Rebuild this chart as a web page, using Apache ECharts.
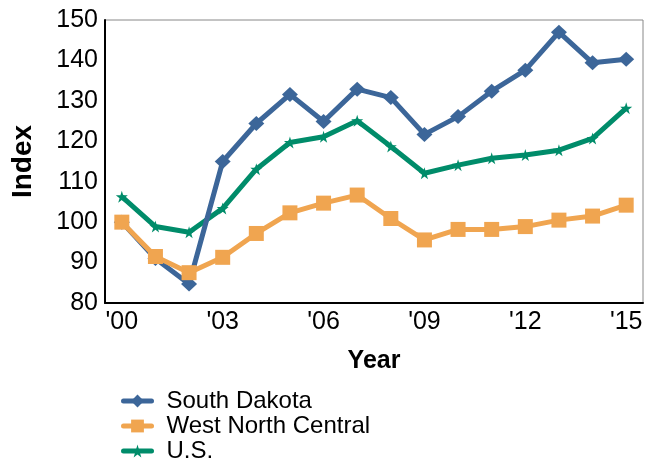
<!DOCTYPE html>
<html>
<head>
<meta charset="utf-8">
<script src="https://cdn.jsdelivr.net/npm/echarts@6/dist/echarts.min.js"></script>
<style>
  html, body { margin: 0; padding: 0; background: #fff; }
  #chart { width: 657px; height: 463px; }
</style>
</head>
<body>
<div id="chart"></div>
<script>
  // data
  const years = ["'00", "'01", "'02", "'03", "'04", "'05", "'06", "'07", "'08", "'09", "'10", "'11", "'12", "'13", "'14", "'15"];
  const southDakota = [100, 91, 84.7, 115, 124.4, 131.6, 124.9, 132.9, 130.8, 121.7, 126.1, 132.4, 137.6, 147, 139.4, 140.3];
  const westNorthCentral = [100, 91.5, 87.5, 91.3, 97.2, 102.3, 104.7, 106.7, 100.9, 95.6, 98.2, 98.2, 98.9, 100.5, 101.5, 104.2];
  const us = [106.3, 98.9, 97.5, 103.4, 113.1, 119.7, 121.1, 125.1, 118.7, 112.1, 114.1, 115.8, 116.6, 117.8, 120.7, 128.2];

  const font = 'Liberation Sans, Arial, sans-serif';
  const star = 'path://M50,0 L61,35 L98,35 L68,57 L79,91 L50,70 L21,91 L32,57 L2,35 L39,35 Z';

  const chart = echarts.init(document.getElementById('chart'));
  chart.setOption({
    animation: false,
    textStyle: { fontFamily: font },
    grid: {
      left: 105, top: 20, right: 14, bottom: 160,
      show: true, borderColor: '#888', borderWidth: 1
    },
    legend: {
      orient: 'vertical',
      left: 121, top: 389, height: 80,
      padding: 0,
      itemGap: 1, itemWidth: 28, itemHeight: 16,
      lineStyle: { width: 5, cap: 'round' },
      textStyle: { fontSize: 24, color: '#000', fontFamily: font, padding: [0, 0, 0, 10] },
      data: ['South Dakota', 'West North Central', 'U.S.']
    },
    xAxis: {
      type: 'category',
      data: years,
      boundaryGap: true,
      name: 'Year',
      nameLocation: 'middle',
      nameGap: 46,
      nameTextStyle: { fontSize: 25, fontWeight: 'bold', color: '#000' },
      axisLine: { lineStyle: { color: '#000', width: 2 } },
      axisTick: { show: false },
      axisLabel: { interval: 2, fontSize: 25, color: '#000', margin: 7 }
    },
    yAxis: {
      type: 'value',
      min: 80, max: 150, interval: 10,
      name: 'Index',
      nameLocation: 'middle',
      nameGap: 68,
      nameTextStyle: { fontSize: 28, fontWeight: 'bold', color: '#000' },
      axisLine: { show: true, lineStyle: { color: '#000', width: 2 } },
      axisTick: { show: false },
      splitLine: { show: false },
      axisLabel: { fontSize: 25, color: '#000', margin: 7 }
    },
    series: [
      {
        name: 'South Dakota', type: 'line', data: southDakota,
        symbol: 'diamond', symbolSize: [16, 15], color: '#3c6699',
        lineStyle: { width: 5 }, z: 3
      },
      {
        name: 'West North Central', type: 'line', data: westNorthCentral,
        symbol: 'rect', symbolSize: 15, color: '#f0a550',
        lineStyle: { width: 5 }, z: 4
      },
      {
        name: 'U.S.', type: 'line', data: us,
        symbol: star, symbolSize: 12, color: '#008c6a',
        lineStyle: { width: 5 }, z: 2
      }
    ]
  });
</script>
</body>
</html>
